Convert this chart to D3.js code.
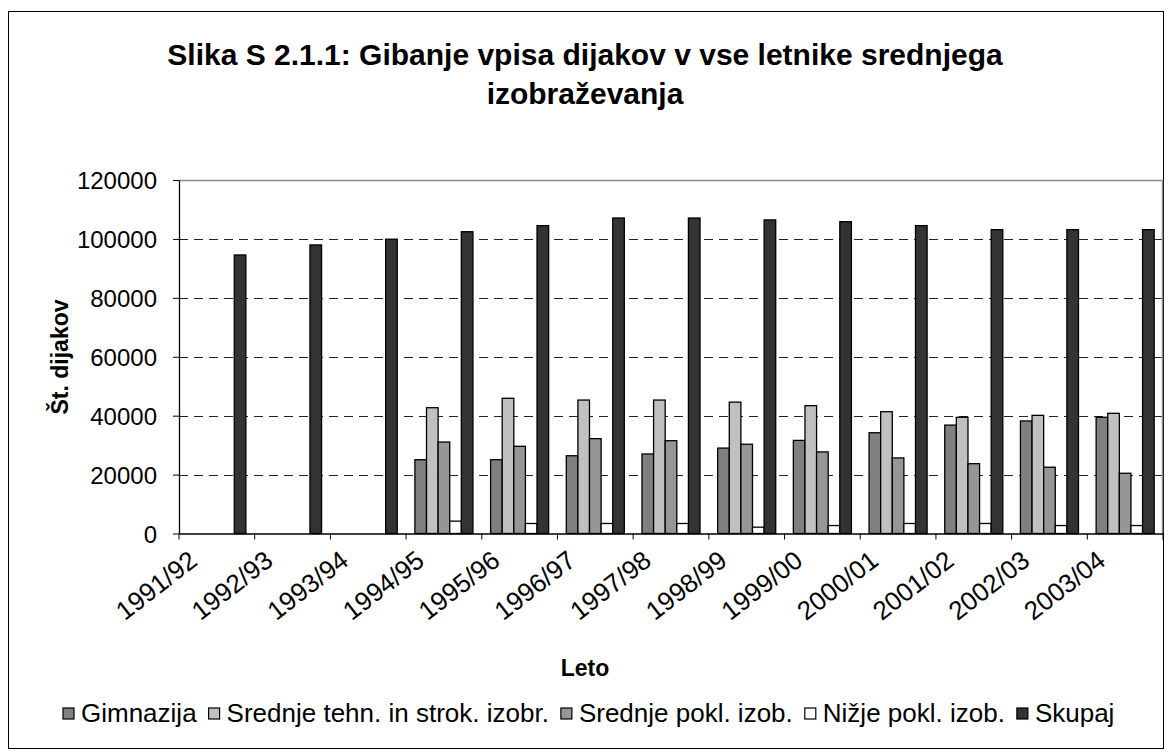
<!DOCTYPE html>
<html><head><meta charset="utf-8">
<script src="https://cdn.jsdelivr.net/npm/d3@7"></script>
<style>body{margin:0;background:#fff}svg{display:block;font-family:"Liberation Sans",Arial,sans-serif}</style>
</head><body><svg id="c" width="1171" height="755"></svg>
<script>
const categories = ["1991/92","1992/93","1993/94","1994/95","1995/96","1996/97","1997/98","1998/99","1999/00","2000/01","2001/02","2002/03","2003/04"];
const seriesNames = ["Gimnazija","Srednje tehn. in strok. izobr.","Srednje pokl. izob.","Nižje pokl. izob.","Skupaj"];
const gimnazija = [null,null,null,25050,25050,26400,27000,29000,31600,34200,36800,38200,39450];
const srednjeTehn = [null,null,null,42700,45900,45300,45300,44600,43400,41350,39450,40100,40800];
const srednjePokl = [null,null,null,31050,29600,32200,31500,30300,27700,25650,23700,22500,20450];
const nizjePokl = [null,null,null,4200,3400,3400,3400,2150,2700,3400,3400,2700,2700];
const skupaj = [94550,97950,99900,102450,104500,107100,107100,106450,105850,104500,103150,103150,103150];
const yTicks = [0,20000,40000,60000,80000,100000,120000];
const colors = ["#808080","#c0c0c0","#969696","#ffffff","#333333"];
const series = [gimnazija, srednjeTehn, srednjePokl, nizjePokl, skupaj];

const FONT = "Liberation Sans, Arial, sans-serif";
const svg = d3.select("#c");
svg.append("rect").attr("x",8.5).attr("y",11.5).attr("width",1155).attr("height",737)
  .attr("fill","#fff").attr("stroke","#000").attr("stroke-width",1);

const L=179, R=1163, T=180, B=533.5;
const x = d3.scaleBand().domain(categories).range([L,R]).paddingInner(0).paddingOuter(0);
const y = d3.scaleLinear().domain([0,120000]).range([B,T]);
const xs = d3.scaleBand().domain(d3.range(5)).range([0,x.bandwidth()]).padding(0).paddingOuter(0.76);

// gridlines
svg.append("g").selectAll("line").data(yTicks.filter(d=>d>0 && d<120000)).join("line")
  .attr("x1",L).attr("x2",R).attr("y1",d=>Math.round(y(d))+0.5).attr("y2",d=>Math.round(y(d))+0.5)
  .attr("stroke","#222").attr("stroke-dasharray","9,6").attr("stroke-width",1);
// plot border top/right
svg.append("path").attr("d",`M${L},${T+0.5}H${R-0.5}V${B}`).attr("fill","none").attr("stroke","#8c8c8c").attr("stroke-width",1.5);

// bars
series.forEach((vals,si)=>{
  svg.append("g").selectAll("rect").data(categories.map((c,i)=>({c,v:vals[i]})).filter(d=>d.v!=null)).join("rect")
    .attr("x",d=>x(d.c)+xs(si)).attr("width",xs.bandwidth())
    .attr("y",d=>y(d.v)).attr("height",d=>B-y(d.v))
    .attr("fill",colors[si]).attr("stroke","#000").attr("stroke-width",1.3);
});

// axes
const yAxis = d3.axisLeft(y).tickValues(yTicks).tickSize(6).tickSizeOuter(0).tickFormat(d3.format("d"));
const gy = svg.append("g").attr("transform",`translate(${L},0)`).call(yAxis);
gy.select(".domain").attr("stroke","#000").attr("stroke-width",1.3);
gy.selectAll(".tick line").attr("stroke","#000");
gy.selectAll("text").attr("font-size",24).attr("fill","#000").attr("x",-22).attr("dy","0.36em").style("font-family",FONT);

const xAxis = d3.axisBottom(x).tickSize(0).tickFormat(d=>d);
const gx = svg.append("g").attr("transform",`translate(0,${B})`).call(xAxis);
gx.select(".domain").attr("stroke","#000").attr("stroke-width",1.3);
gx.selectAll(".tick text").attr("font-size",26).attr("fill","#000").style("font-family",FONT)
  .attr("text-anchor","end").attr("dy",0).attr("y",0)
  .attr("transform","translate(-18,30) rotate(-38)");
// tick marks at category boundaries
svg.append("g").selectAll("line").data(categories.concat(["__end"])).join("line")
  .attr("x1",(d,i)=>L+i*x.bandwidth()).attr("x2",(d,i)=>L+i*x.bandwidth())
  .attr("y1",B).attr("y2",B+6).attr("stroke","#000").attr("stroke-width",1);

// titles
const title = svg.append("text").attr("text-anchor","middle").attr("font-weight","bold").attr("font-size",30).attr("fill","#000");
title.append("tspan").attr("x",585).attr("y",65).text("Slika S 2.1.1: Gibanje vpisa dijakov v vse letnike srednjega");
title.append("tspan").attr("x",585).attr("y",104).text("izobraževanja");

svg.append("text").attr("text-anchor","middle").attr("font-weight","bold").attr("font-size",23)
  .attr("transform","translate(68,357) rotate(-90)").text("Št. dijakov");
svg.append("text").attr("text-anchor","middle").attr("font-weight","bold").attr("font-size",23)
  .attr("x",585).attr("y",676).text("Leto");

// legend
const lg = svg.append("g").attr("transform","translate(0,713)");
let lx = 63;
seriesNames.forEach((n,i)=>{
  lg.append("rect").attr("x",lx).attr("y",-5).attr("width",11).attr("height",11)
    .attr("fill",colors[i]).attr("stroke","#000").attr("stroke-width",1.2);
  const t = lg.append("text").attr("x",lx+18).attr("y",0).attr("dy","0.36em").attr("font-size",26).text(n);
  lx += 18 + t.node().getComputedTextLength() + 12;
});
</script></body></html>
